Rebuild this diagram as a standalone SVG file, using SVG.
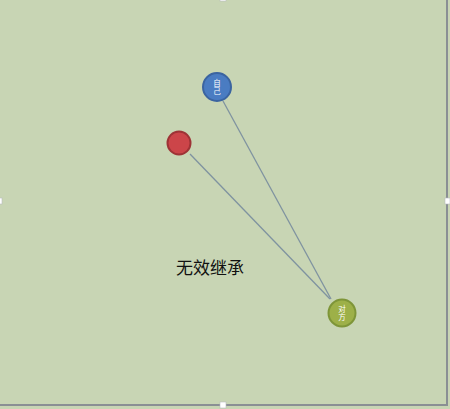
<svg xmlns="http://www.w3.org/2000/svg" width="450" height="409" viewBox="0 0 450 409">
<style>
.node{stroke-width:2}
.lbl{font-family:"Noto Sans CJK SC","Liberation Sans",sans-serif;fill:#ffffff;font-size:7.5px;writing-mode:vertical-rl;text-anchor:middle}
.edge{stroke:#7f93a0;stroke-width:1.3;fill:none}
.frame{stroke:#8a8f94;stroke-width:2}
.handle{fill:#ffffff;stroke:#b8bcc0;stroke-width:0.6}
</style>
<rect x="0" y="0" width="450" height="409" fill="#c8d5b4"/>
<g id="frame">
<line class="frame" x1="447" y1="0" x2="447" y2="406"/>
<line class="frame" x1="0" y1="405" x2="448" y2="405"/>
<rect class="handle" x="-2" y="198" width="4" height="6"/>
<rect class="handle" x="445" y="198" width="5" height="6"/>
<rect class="handle" x="220" y="402" width="6" height="6"/>
<rect class="handle" x="220" y="-3" width="6" height="4"/>
</g>
<g id="connectors">
<line class="edge" x1="223" y1="101" x2="331" y2="299"/>
<line class="edge" x1="190" y1="154" x2="330" y2="299"/>
</g>
<g id="node-self">
<circle class="node" cx="217" cy="87" r="14" fill="#4a7cc2" stroke="#3b64a0"/>
<text class="lbl" x="217" y="87">自己</text>
</g>
<g id="node-red">
<circle class="node" cx="179" cy="143" r="11.5" fill="#cc4549" stroke="#9e3336"/>
</g>
<g id="node-other">
<circle class="node" cx="342" cy="313" r="13.5" fill="#9db048" stroke="#7e9538"/>
<text class="lbl" x="342" y="313">对方</text>
</g>
<text x="210" y="274" font-family="Noto Sans CJK SC, sans-serif" font-size="17" fill="#111111" text-anchor="middle">无效继承</text>
</svg>
